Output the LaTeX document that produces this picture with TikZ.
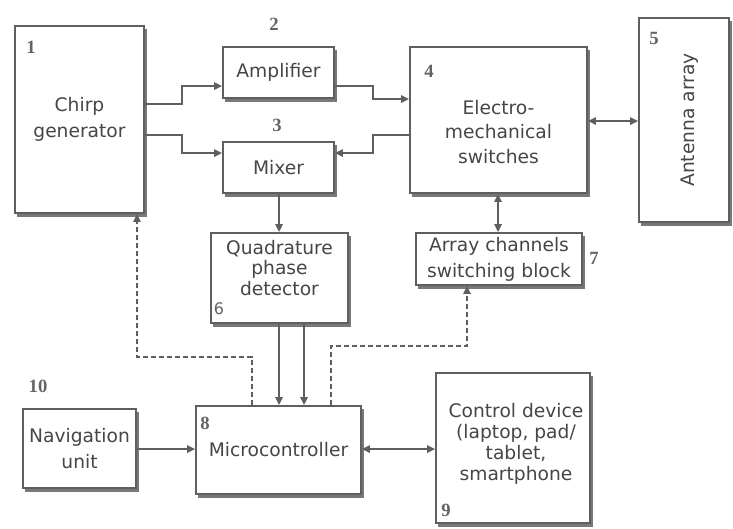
\documentclass[tikz,border=0pt]{standalone}
\usepackage{fontspec}
\newfontfamily\boxfont{DejaVu Sans}
\newfontfamily\numfont{Liberation Serif}
\usetikzlibrary{arrows.meta}
\definecolor{linec}{RGB}{95,95,95}
\definecolor{textc}{RGB}{70,70,70}
\definecolor{numc}{RGB}{100,100,100}
\definecolor{shadc}{RGB}{120,120,120}
\tikzset{
  blk/.style={draw=linec, line width=1.3pt, fill=white, rectangle, inner sep=0pt,
    align=center, text=textc, font=\boxfont\fontsize{14}{19.5}\selectfont,
    preaction={fill=shadc, draw=shadc, line width=1.3pt, transform canvas={xshift=1.8pt,yshift=-2.6pt}}},
  num/.style={text=numc, font=\numfont\bfseries\fontsize{14}{14}\selectfont, inner sep=0pt},
  conn/.style={draw=linec, line width=1.3pt},
  arr/.style={conn, -{Triangle[length=6pt,width=5.5pt]}},
  darr/.style={conn, {Triangle[length=6pt,width=5.5pt]}-{Triangle[length=6pt,width=5.5pt]}},
  dasharr/.style={arr, dash pattern=on 3.5pt off 2.5pt}
}
\begin{document}
\begin{tikzpicture}[x=0.75pt,y=-0.75pt]
\useasboundingbox (0,0) rectangle (733,529);
% boxes
\node[blk, minimum width=96.75pt, minimum height=140.25pt] (chirp) at (79.5,119.5) {Chirp\\generator};
\node[blk, minimum width=83.25pt, minimum height=38.25pt] (amp) at (278.5,72.5) {Amplifier};
\node[blk, minimum width=83.25pt, minimum height=38.25pt] (mixer) at (278.5,167.5) {Mixer};
\node[blk, minimum width=132.75pt, minimum height=109.5pt] (sw) at (498.5,120) {};
\node[text=textc, font=\boxfont\fontsize{14}{18.5}\selectfont, align=center] (swt) at (498.5,132) {Electro-\\mechanical\\switches};
\node[blk, minimum width=67.5pt, minimum height=153pt] (ant) at (684,120) {};
\node[text=textc, font=\boxfont\fontsize{14}{18.5}\selectfont, rotate=90] (antt) at (690,120) {Antenna array};
\node[blk, minimum width=124.5pt, minimum height=39pt] (acs) at (499,259) {Array channels\\switching block};
\node[blk, minimum width=102.75pt, minimum height=67.5pt] (qpd) at (279.5,278) {};
\node[text=textc, font=\boxfont\fontsize{14}{15.5}\selectfont, align=center] (qpdt) at (279.5,268) {Quadrature\\phase\\detector};
\node[blk, minimum width=123.75pt, minimum height=66pt] (mc) at (278.5,450) {Microcontroller};
\node[blk, minimum width=84.75pt, minimum height=59.25pt] (nav) at (79.5,448.5) {Navigation\\unit};
\node[blk, minimum width=115.5pt, minimum height=112.5pt] (ctrl) at (513,448) {};
\node[text=textc, font=\boxfont\fontsize{14}{15.8}\selectfont, align=center] (ctrlt) at (516,444) {Control device\\(laptop, pad/\\tablet,\\smartphone};
% numbers
\node[num] (n1) at (31,47) {1};
\node[num] (n2) at (274,24) {2};
\node[num] (n3) at (277,125) {3};
\node[num] (n4) at (429,71) {4};
\node[num] (n5) at (654,38) {5};
\node[text=numc, font=\boxfont\fontsize{12}{12}\selectfont, inner sep=0pt] (n6) at (219,309) {6};
\node[num] (n7) at (594,258) {7};
\node[num] (n8) at (205,423) {8};
\node[num] (n9) at (446,510) {9};
\node[num] (n10) at (38,386) {10};
% connectors
\draw[arr] (chirp.east |- 0,104) -- (182,104) -- (182,86) -- (amp.west |- 0,86);
\draw[arr] (chirp.east |- 0,135) -- (182,135) -- (182,153) -- (mixer.west |- 0,153);
\draw[arr] (amp.east |- 0,86) -- (373,86) -- (373,99) -- (sw.west |- 0,99);
\draw[arr] (sw.west |- 0,135) -- (373,135) -- (373,153) -- (mixer.east |- 0,153);
\draw[darr] (sw.east |- 0,121) -- (ant.west |- 0,121);
\draw[darr] (sw.south -| 498,0) -- (acs.north -| 498,0);
\draw[arr] (mixer.south -| 279,0) -- (qpd.north -| 279,0);
\draw[arr] (qpd.south -| 279,0) -- (mc.north -| 279,0);
\draw[arr] (qpd.south -| 304,0) -- (mc.north -| 304,0);
\draw[dasharr] (mc.north -| 252,0) -- (252,357) -- (137,357) -- (chirp.south -| 137,0);
\draw[dasharr] (mc.north -| 331,0) -- (331,346) -- (467,346) -- (acs.south -| 467,0);
\draw[arr] (nav.east |- 0,449) -- (mc.west |- 0,449);
\draw[darr] (mc.east |- 0,449) -- (ctrl.west |- 0,449);
\end{tikzpicture}
\end{document}
